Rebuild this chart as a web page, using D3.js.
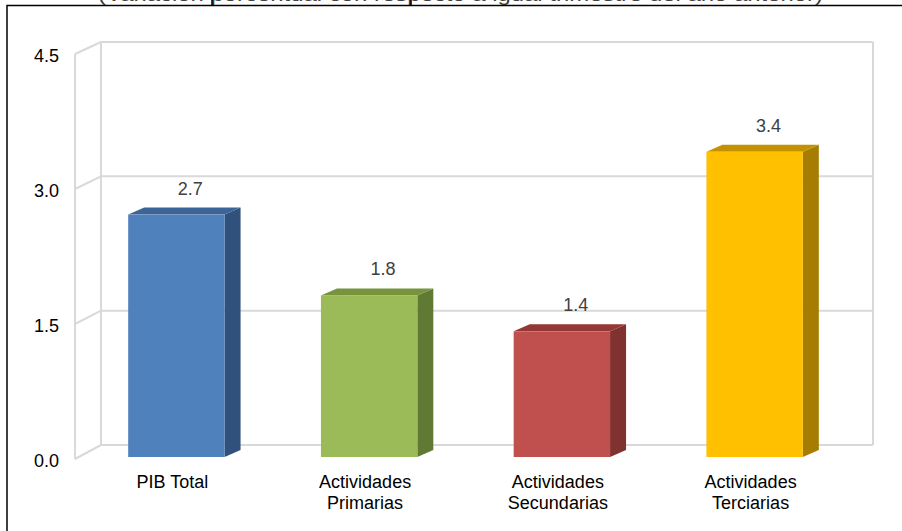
<!DOCTYPE html>
<html>
<head>
<meta charset="utf-8">
<script src="https://cdn.jsdelivr.net/npm/d3@7/dist/d3.min.js"></script>
<style>
  html, body { margin: 0; padding: 0; background: #fff; }
  svg { display: block; font-family: "Liberation Sans", Arial, sans-serif; }
</style>
</head>
<body>
<svg id="chart" width="902" height="531"></svg>
<script>
// chart data
var categories = ['PIB Total', 'Actividades Primarias', 'Actividades Secundarias', 'Actividades Terciarias'];
var values = [2.7, 1.8, 1.4, 3.4];
var tickValues = [0, 1.5, 3.0, 4.5];
var frontColors = ['#4F81BD', '#9BBB59', '#C0504D', '#FFC000'];
var topColors = ['#3C6596', '#77933C', '#953735', '#C49200'];
var sideColors = ['#30517C', '#617A33', '#7F3230', '#A67D00'];
var titleText = '(Variación porcentual con respecto a igual trimestre del año anterior)';

var svg = d3.select('#chart');

// 3D layout: back wall, front edge and bar plane
var wallDx = 26;
var yBack = d3.scaleLinear().domain([0, 4.5]).range([445, 42]);
var yFront = d3.scaleLinear().domain([0, 4.5]).range([459, 54]);
var yBar = d3.scaleLinear().domain([0, 4.5]).range([457, 53]);
var x = d3.scaleBand().domain(categories).range([80, 851]).paddingInner(0.5).paddingOuter(0.25);
var xLeft = 75, xBackLeft = xLeft + wallDx, xBackRight = 873;
var barDx = 16, barDy = 7;

// frame and the title cut by the top edge
svg.append('text')
  .attr('x', 98).attr('y', 0.5)
  .attr('textLength', 725)
  .attr('lengthAdjust', 'spacingAndGlyphs')
  .style('font-size', '18px')
  .attr('fill', '#404040')
  .text(titleText);
svg.selectAll('.tick-sep').data([212, 411]).enter().append('line')
  .attr('x1', function (d) { return d; }).attr('x2', function (d) { return d; })
  .attr('y1', 0).attr('y2', 5.5)
  .attr('stroke', '#000').attr('stroke-width', 1.5);
svg.append('path')
  .attr('d', 'M7,531V5.5H902')
  .attr('fill', 'none').attr('stroke', '#000').attr('stroke-width', 1.5);

// walls and gridlines
var grid = svg.append('g').attr('stroke', '#D9D9D9').attr('stroke-width', 2).attr('fill', 'none');
grid.selectAll('.hgrid').data(tickValues).enter().append('line')
  .attr('x1', xBackLeft).attr('x2', xBackRight)
  .attr('y1', function (d) { return yBack(d); })
  .attr('y2', function (d) { return yBack(d); });
grid.selectAll('.diag').data(tickValues).enter().append('line')
  .attr('x1', xLeft).attr('x2', xBackLeft)
  .attr('y1', function (d) { return yFront(d); })
  .attr('y2', function (d) { return yBack(d); });
grid.append('line')
  .attr('x1', xLeft).attr('x2', xLeft)
  .attr('y1', yFront(0)).attr('y2', yFront(4.5));
grid.append('line')
  .attr('x1', xBackLeft).attr('x2', xBackLeft)
  .attr('y1', yBack(0)).attr('y2', yBack(4.5));
grid.append('line')
  .attr('x1', xBackRight).attr('x2', xBackRight)
  .attr('y1', yBack(0)).attr('y2', yBack(4.5));

// y tick labels
svg.selectAll('.ylab').data(tickValues).enter().append('text')
  .attr('x', 59)
  .attr('y', function (d) { return yFront(d) + 2; })
  .attr('dy', '0.35em')
  .attr('text-anchor', 'end')
  .style('font-size', '18px')
  .attr('fill', '#000')
  .text(function (d) { return d3.format('.1f')(d); });

// bars
var bw = x.bandwidth();
var bars = svg.selectAll('.bar').data(categories).enter().append('g');

bars.append('path')
  .attr('fill', function (d, i) { return sideColors[i]; })
  .attr('d', function (d, i) {
    var x1 = x(d) + bw, y0 = yBar(0), y1 = yBar(values[i]);
    return 'M' + x1 + ',' + y0 + 'L' + x1 + ',' + y1 + 'L' + (x1 + barDx) + ',' + (y1 - barDy) +
      'L' + (x1 + barDx) + ',' + (y0 - barDy) + 'Z';
  });
bars.append('path')
  .attr('fill', function (d, i) { return topColors[i]; })
  .attr('d', function (d, i) {
    var x0 = x(d), y1 = yBar(values[i]);
    return 'M' + x0 + ',' + y1 + 'L' + (x0 + barDx) + ',' + (y1 - barDy) + 'L' + (x0 + bw + barDx) + ',' + (y1 - barDy) +
      'L' + (x0 + bw) + ',' + y1 + 'Z';
  });
bars.append('rect')
  .attr('x', function (d) { return x(d); })
  .attr('y', function (d, i) { return yBar(values[i]); })
  .attr('width', bw)
  .attr('height', function (d, i) { return yBar(0) - yBar(values[i]); })
  .attr('fill', function (d, i) { return frontColors[i]; });

// value labels
bars.append('text')
  .attr('x', function (d) { return x(d) + bw / 2 + 14; })
  .attr('y', function (d, i) { return yBar(values[i]) - 20; })
  .attr('text-anchor', 'middle')
  .style('font-size', '18px')
  .attr('fill', '#404040')
  .text(function (d, i) { return d3.format('.1f')(values[i]); });

// category labels
var catLab = svg.selectAll('.xlab').data(categories).enter().append('text')
  .attr('text-anchor', 'middle')
  .style('font-size', '18px')
  .attr('fill', '#000');
catLab.each(function (d) {
  var words = d.split(' ');
  var lines = d === 'PIB Total' ? [d] : words;
  var t = d3.select(this);
  lines.forEach(function (line, k) {
    t.append('tspan')
      .attr('x', x(d) + bw / 2 - 4)
      .attr('y', 488 + k * 21)
      .text(line);
  });
});
</script>
</body>
</html>
